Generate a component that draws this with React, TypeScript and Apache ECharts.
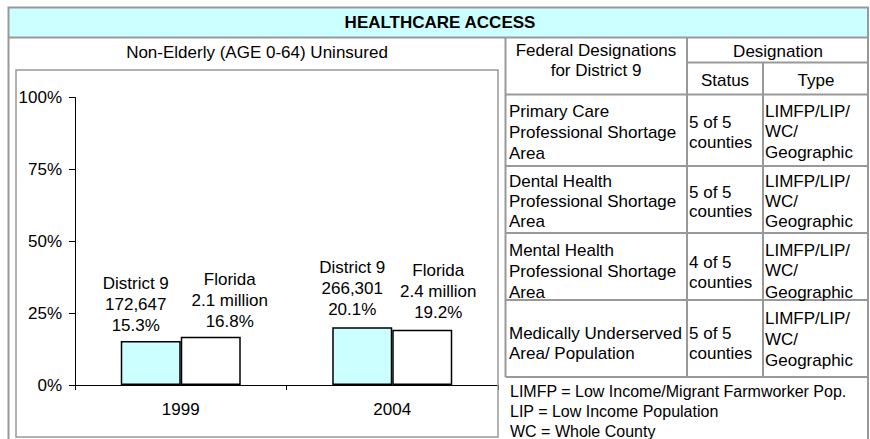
import React, { useEffect, useRef } from "react";
import * as echarts from "echarts";

const categories = ["1999", "2004"];
const district9Pct = [15.3, 20.1];
const floridaPct = [16.8, 19.2];
const district9Count = ["172,647", "266,301"];
const floridaCount = ["2.1 million", "2.4 million"];

const chartTitle = "HEALTHCARE ACCESS";
const panelTitle = "Non-Elderly (AGE 0-64) Uninsured";

const tableHeader = ["Federal Designations\nfor District 9", "Designation", "Status", "Type"];
const designations = [
  "Primary Care\nProfessional Shortage\nArea",
  "Dental Health\nProfessional Shortage\nArea",
  "Mental Health\nProfessional Shortage\nArea",
  "Medically Underserved\nArea/ Population",
];
const statuses = ["5 of 5\ncounties", "5 of 5\ncounties", "4 of 5\ncounties", "5 of 5\ncounties"];
const types = [
  "LIMFP/LIP/\nWC/\nGeographic",
  "LIMFP/LIP/\nWC/\nGeographic",
  "LIMFP/LIP/\nWC/\nGeographic",
  "LIMFP/LIP/\nWC/\nGeographic",
];
const footnotes = [
  "LIMFP = Low Income/Migrant Farmworker Pop.",
  "LIP = Low Income Population",
  "WC = Whole County",
];

const FONT = '"Liberation Sans", Arial, Helvetica, sans-serif';
const GREY = "#999999";

export default function App() {
  const ref = useRef<HTMLDivElement>(null);

  useEffect(() => {
    if (!ref.current) return;
    const chart = echarts.init(ref.current, undefined, { renderer: "svg" });

    const txt = (text: string, x: number, y: number, align = "left", bold = false, size = 17) => ({
      type: "text",
      x,
      y,
      silent: true,
      z: 10,
      style: {
        text,
        fill: "#000",
        fontSize: size,
        fontFamily: FONT,
        fontWeight: bold ? "bold" : "normal",
        align,
        textAlign: align,
        verticalAlign: "middle",
        textVerticalAlign: "middle",
      },
    });
    const multi = (text: string, x: number, ys: number[], align = "left") =>
      text.split("\n").map((line, i) => txt(line, x, ys[i], align));
    const hline = (x1: number, x2: number, y: number, w = 2) => ({
      type: "line",
      silent: true,
      z: 5,
      shape: { x1, y1: y, x2, y2: y },
      style: { stroke: GREY, lineWidth: w },
    });
    const vline = (x: number, y1: number, y2: number, w = 2) => ({
      type: "line",
      silent: true,
      z: 5,
      shape: { x1: x, y1, x2: x, y2 },
      style: { stroke: GREY, lineWidth: w },
    });

    const rowCol1Y = [[111, 132, 153], [181, 201, 221], [250, 271, 292], [333, 353]];
    const rowStatusY = [[122, 142], [192, 211], [262, 282], [333, 353]];
    const rowTypeY = [[111, 131, 152], [181, 201, 221], [250, 270, 292], [318, 339, 360]];
    const rowLines = [166, 233, 300, 377];

    const graphics: any[] = [
      {
        type: "rect",
        silent: true,
        z: 1,
        shape: { x: 8.5, y: 7.5, width: 859.5, height: 30 },
        style: { fill: "#CCFFFF", stroke: "none" },
      },
      {
        type: "rect",
        silent: true,
        z: 5,
        shape: { x: 8.5, y: 7.5, width: 859.5, height: 450 },
        style: { fill: "none", stroke: GREY, lineWidth: 2 },
      },
      hline(8.5, 868, 37.5),
      {
        type: "rect",
        silent: true,
        z: 5,
        shape: { x: 16, y: 70, width: 482, height: 367 },
        style: { fill: "none", stroke: GREY, lineWidth: 1.5 },
      },
      vline(505.5, 37.5, 377),
      vline(687, 37.5, 377),
      vline(763, 62.5, 377),
      hline(687, 868, 62.5),
      hline(505.5, 868, 94.5),
      ...rowLines.map((y) => hline(505.5, 868, y)),
      txt(chartTitle, 440, 22.5, "center", true),
      txt(panelTitle, 257, 52, "center"),
      ...multi(tableHeader[0], 596, [50, 70], "center"),
      txt(tableHeader[1], 778, 51, "center"),
      txt(tableHeader[2], 725, 80, "center"),
      txt(tableHeader[3], 816, 80, "center"),
    ];
    designations.forEach((d, i) => graphics.push(...multi(d, 509, rowCol1Y[i])));
    statuses.forEach((s, i) => graphics.push(...multi(s, 689, rowStatusY[i])));
    types.forEach((t, i) => graphics.push(...multi(t, 765, rowTypeY[i])));
    footnotes.forEach((f, i) => graphics.push(txt(f, 510, 391 + i * 20, "left", false, 16)));

    const d9Offsets = [[-15, 0], [-10, -2]];
    const flOffsets = [[19, 0], [16, -2]];

    const labelBase = {
      show: true,
      position: "top",
      distance: 5,
      color: "#000",
      fontSize: 17,
      fontFamily: FONT,
      lineHeight: 21,
      align: "center",
    };

    chart.setOption({
      animation: false,
      backgroundColor: "#fff",
      grid: { left: 75, right: 372, top: 97.5, bottom: 54 },
      xAxis: {
        type: "category",
        data: categories,
        axisLine: { lineStyle: { color: "#000", width: 1 } },
        axisTick: { show: true, length: 5, lineStyle: { color: "#000" } },
        axisLabel: { color: "#000", fontSize: 17, fontFamily: FONT, margin: 16 },
      },
      yAxis: {
        type: "value",
        min: 0,
        max: 100,
        interval: 25,
        axisLine: { show: true, lineStyle: { color: "#000", width: 1 } },
        axisTick: { show: true, length: 6, lineStyle: { color: "#000" } },
        splitLine: { show: false },
        axisLabel: {
          color: "#000",
          fontSize: 17,
          fontFamily: FONT,
          margin: 13,
          formatter: "{value}%",
        },
      },
      series: [
        {
          name: "District 9",
          type: "bar",
          barWidth: 60,
          barGap: "0%",
          data: district9Pct.map((v, i) => ({ value: v, label: { offset: d9Offsets[i] } })),
          itemStyle: { color: "#CCFFFF", borderColor: "#000", borderWidth: 1.5 },
          label: {
            ...labelBase,
            formatter: (p: any) => `${p.seriesName}\n${district9Count[p.dataIndex]}\n${p.value.toFixed(1)}%`,
          },
        },
        {
          name: "Florida",
          type: "bar",
          barWidth: 60,
          barGap: "0%",
          data: floridaPct.map((v, i) => ({ value: v, label: { offset: flOffsets[i] } })),
          itemStyle: { color: "#FFFFFF", borderColor: "#000", borderWidth: 1.5 },
          label: {
            ...labelBase,
            formatter: (p: any) => `${p.seriesName}\n${floridaCount[p.dataIndex]}\n${p.value.toFixed(1)}%`,
          },
        },
      ],
      graphic: { elements: graphics },
    });

    return () => chart.dispose();
  }, []);

  return (
    <div
      ref={ref}
      style={{ position: "fixed", left: 0, top: 0, width: 870, height: 439, background: "#fff" }}
    />
  );
}
